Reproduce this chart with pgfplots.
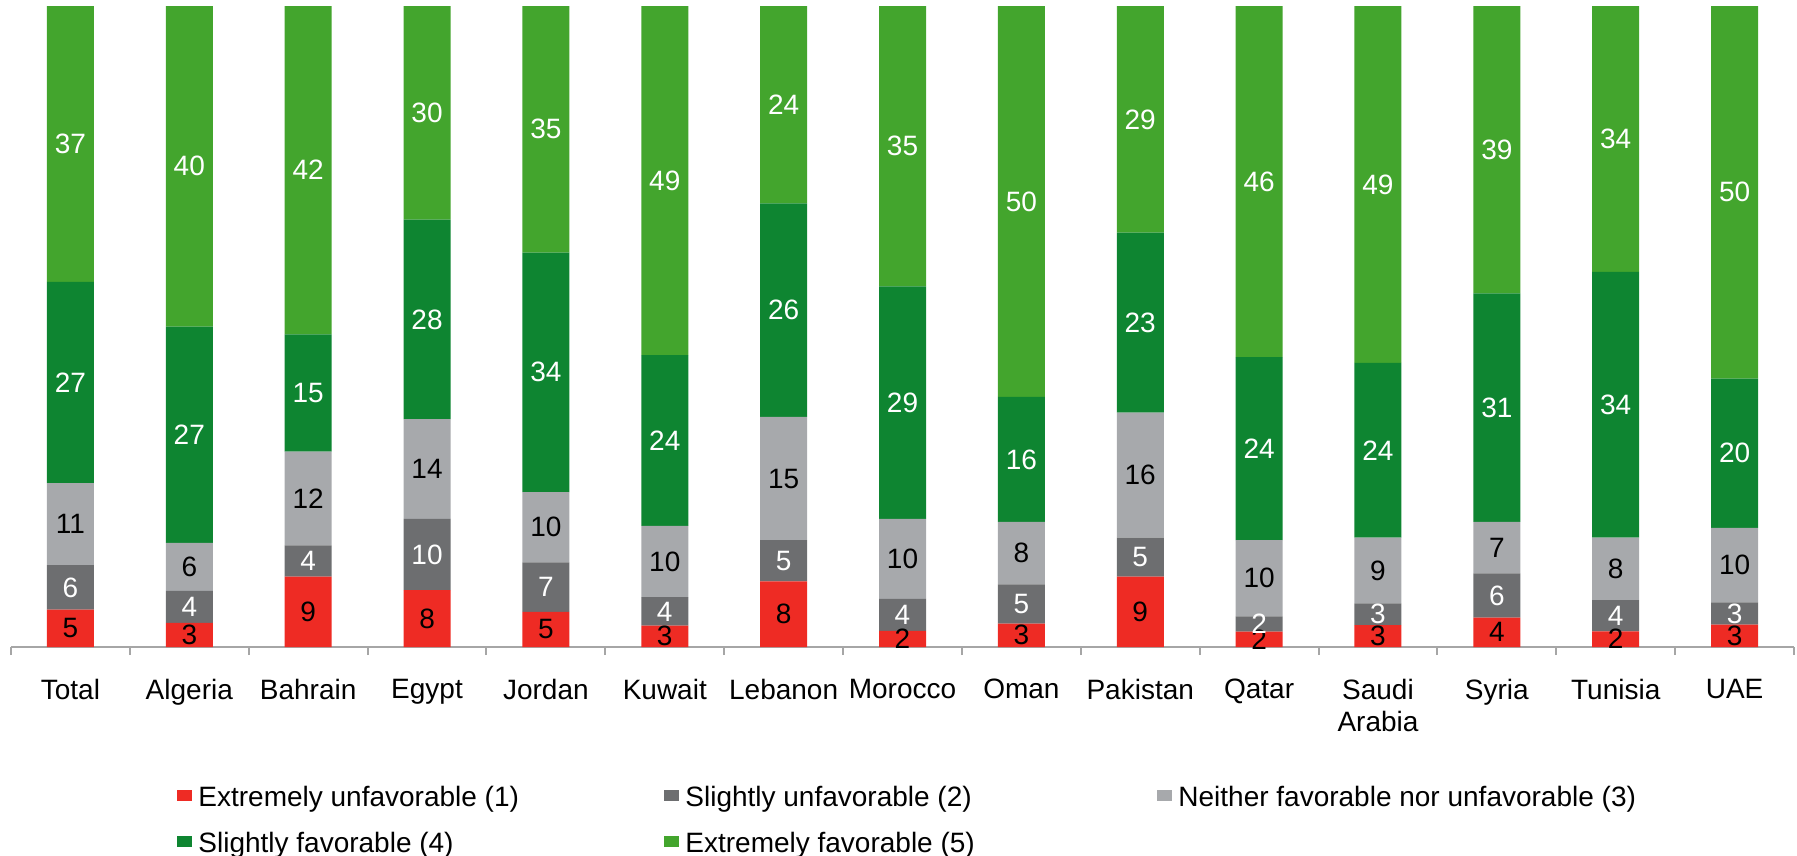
\documentclass[border=0pt]{standalone}
\usepackage{fontspec}
\setmainfont{Liberation Sans}
\usepackage{pgfplots}
\usepackage{pgfplotstable}
\pgfplotsset{compat=1.18}

\definecolor{cRed}{HTML}{EE2B24}
\definecolor{cDGray}{HTML}{6D6E70}
\definecolor{cLGray}{HTML}{A7A9AC}
\definecolor{cDGreen}{HTML}{0E8531}
\definecolor{cLGreen}{HTML}{43A52D}
\definecolor{axgray}{HTML}{A6A6A6}

\newcommand{\lbl}{\fontsize{14}{16}\selectfont}

% r1 = extremely unfavorable ... r5 = extremely favorable
\pgfplotstableread{
r1 r2 r3 r4 r5
5  6  11 27 37
3  4  6  27 40
9  4  12 15 42
8  10 14 28 30
5  7  10 34 35
3  4  10 24 49
8  5  15 26 24
2  4  10 29 35
3  5  8  16 50
9  5  16 23 29
2  2  10 24 46
3  3  9  24 49
4  6  7  31 39
2  4  8  34 34
3  3  10 20 50
}\data
\pgfplotstablecreatecol[expr={\thisrow{r1}+\thisrow{r2}+\thisrow{r3}+\thisrow{r4}+\thisrow{r5}}]{tot}{\data}

\pgfplotsset{
  base/.style={
    scale only axis, width=891.5pt, height=323.5pt,
    xmin=-0.5, xmax=14.5, ymin=0, ymax=100.94,
  },
  lab/.style={
    draw=none, mark=none, nodes near coords, point meta=explicit,
    /pgf/number format/assume math mode=true,
    every node near coord/.append style={anchor=center, font=\lbl, text=#1},
  },
}

\begin{document}
\begin{tikzpicture}
\begin{axis}[base,
  ybar stacked, bar width=23.5pt,
  axis y line=none,
  axis x line*=bottom,
  x axis line style={draw=axgray, line width=1pt, -},
  xtick={-0.5,0.5,...,14.5},
  x tick label as interval,
  xticklabels={Total,Algeria,Bahrain,Egypt,Jordan,Kuwait,Lebanon,Morocco,Oman,Pakistan,Qatar,{Saudi\\Arabia},Syria,Tunisia,UAE},
  xtick style={draw=axgray, line width=1pt},
  major tick length=4pt, tick align=outside,
  xticklabel style={anchor=north, yshift=-12pt, align=center, font=\lbl, inner sep=0pt},
  legend columns=3,
  legend cell align=left,
  legend style={draw=none, fill=none, at={(rel axis cs:0,0)}, anchor=north west,
    xshift=83pt, yshift=-69.5pt, font=\lbl, inner sep=0pt, row sep=11.5pt,
    nodes={inner sep=0pt, inner xsep=1pt}},
  legend image code/.code={\fill[#1] (0pt,-1.5pt) rectangle (7.5pt,4pt); \path (9.5pt,0pt);},
]
\addplot[fill=cRed, draw=none] table[x expr=\coordindex, y expr=100*\thisrow{r1}/\thisrow{tot}] {\data};
\addlegendentry{\makebox[232pt][l]{Extremely unfavorable (1)}}
\addplot[fill=cDGray, draw=none] table[x expr=\coordindex, y expr=100*\thisrow{r2}/\thisrow{tot}] {\data};
\addlegendentry{\makebox[235pt][l]{Slightly unfavorable (2)}}
\addplot[fill=cLGray, draw=none] table[x expr=\coordindex, y expr=100*\thisrow{r3}/\thisrow{tot}] {\data};
\addlegendentry{Neither favorable nor unfavorable (3)}
\addplot[fill=cDGreen, draw=none] table[x expr=\coordindex, y expr=100*\thisrow{r4}/\thisrow{tot}] {\data};
\addlegendentry{Slightly favorable (4)}
\addplot[fill=cLGreen, draw=none] table[x expr=\coordindex, y expr=100*\thisrow{r5}/\thisrow{tot}] {\data};
\addlegendentry{Extremely favorable (5)}
\end{axis}
\begin{axis}[base, axis lines=none, clip=false]
\addplot[lab=black] table[x expr=\coordindex, meta=r1,
  y expr={50*\thisrow{r1}/\thisrow{tot}}] {\data};
\addplot[lab=white] table[x expr=\coordindex, meta=r2,
  y expr={100*(\thisrow{r1}+0.5*\thisrow{r2})/\thisrow{tot}}] {\data};
\addplot[lab=black] table[x expr=\coordindex, meta=r3,
  y expr={100*(\thisrow{r1}+\thisrow{r2}+0.5*\thisrow{r3})/\thisrow{tot}}] {\data};
\addplot[lab=white] table[x expr=\coordindex, meta=r4,
  y expr={100*(\thisrow{r1}+\thisrow{r2}+\thisrow{r3}+0.5*\thisrow{r4})/\thisrow{tot}}] {\data};
\addplot[lab=white] table[x expr=\coordindex, meta=r5,
  y expr={100*(\thisrow{r1}+\thisrow{r2}+\thisrow{r3}+\thisrow{r4}+0.5*\thisrow{r5})/\thisrow{tot}}] {\data};
\end{axis}
\path ([xshift=-5.5pt]current axis.south west) ([xshift=1.5pt]current axis.north east);
\end{tikzpicture}
\end{document}
